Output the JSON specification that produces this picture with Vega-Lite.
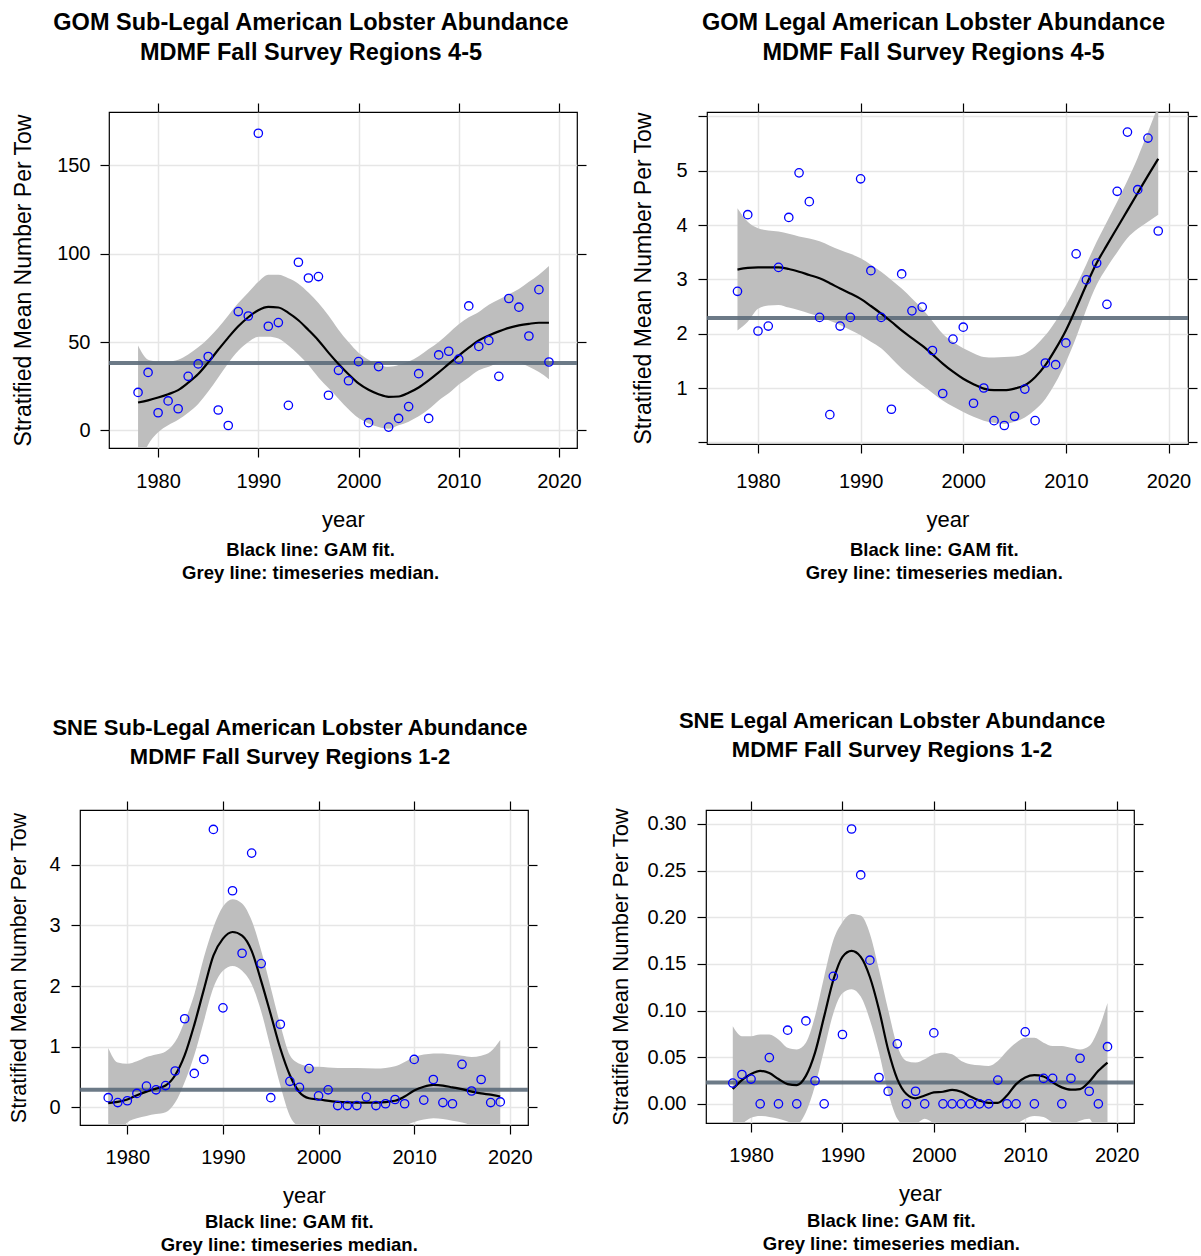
{
  "$schema": "https://vega.github.io/schema/vega-lite/v6.json",
  "background": "white",
  "padding": {"left": 8, "top": 10, "right": 2, "bottom": 5},
  "datasets": {
    "gom_sub_pts": [
      {"year": 1978, "v": 21.5}, {"year": 1979, "v": 32.8}, {"year": 1980, "v": 10}, {"year": 1981, "v": 16.7},
      {"year": 1982, "v": 12.3}, {"year": 1983, "v": 30.6}, {"year": 1984, "v": 37.6}, {"year": 1985, "v": 41.8},
      {"year": 1986, "v": 11.6}, {"year": 1987, "v": 2.8}, {"year": 1988, "v": 67.2}, {"year": 1989, "v": 64.7},
      {"year": 1990, "v": 168}, {"year": 1991, "v": 58.9}, {"year": 1992, "v": 61}, {"year": 1993, "v": 14.2},
      {"year": 1994, "v": 95.1}, {"year": 1995, "v": 86.2}, {"year": 1996, "v": 87}, {"year": 1997, "v": 19.9},
      {"year": 1998, "v": 34}, {"year": 1999, "v": 28.1}, {"year": 2000, "v": 38.9}, {"year": 2001, "v": 4.4},
      {"year": 2002, "v": 36.1}, {"year": 2003, "v": 1.9}, {"year": 2004, "v": 6.8}, {"year": 2005, "v": 13.5},
      {"year": 2006, "v": 32.1}, {"year": 2007, "v": 6.8}, {"year": 2008, "v": 42.7}, {"year": 2009, "v": 44.8},
      {"year": 2010, "v": 40.3}, {"year": 2011, "v": 70.4}, {"year": 2012, "v": 47.5}, {"year": 2013, "v": 50.9},
      {"year": 2014, "v": 30.6}, {"year": 2015, "v": 74.6}, {"year": 2016, "v": 69.7}, {"year": 2017, "v": 53.4},
      {"year": 2018, "v": 79.6}, {"year": 2019, "v": 38.7}
    ],
    "gom_sub_fit": [
      {"year": 1978, "fit": 15.8, "lo": -20, "hi": 48}, {"year": 1979, "fit": 17, "lo": -8, "hi": 40},
      {"year": 1980, "fit": 18.6, "lo": -1, "hi": 39}, {"year": 1981, "fit": 20.5, "lo": 3, "hi": 39},
      {"year": 1982, "fit": 22.8, "lo": 6, "hi": 40}, {"year": 1983, "fit": 27, "lo": 10, "hi": 43},
      {"year": 1984, "fit": 31.9, "lo": 15, "hi": 47}, {"year": 1985, "fit": 38.5, "lo": 22, "hi": 52},
      {"year": 1986, "fit": 45.6, "lo": 30, "hi": 58}, {"year": 1987, "fit": 52.5, "lo": 38, "hi": 65},
      {"year": 1988, "fit": 58.9, "lo": 45, "hi": 72}, {"year": 1989, "fit": 64, "lo": 50, "hi": 78},
      {"year": 1990, "fit": 68, "lo": 53, "hi": 84}, {"year": 1991, "fit": 69.9, "lo": 53, "hi": 88},
      {"year": 1992, "fit": 69.5, "lo": 52, "hi": 88}, {"year": 1993, "fit": 66.5, "lo": 48, "hi": 86},
      {"year": 1994, "fit": 62.3, "lo": 43, "hi": 83}, {"year": 1995, "fit": 56.8, "lo": 37, "hi": 78},
      {"year": 1996, "fit": 50.9, "lo": 30, "hi": 72}, {"year": 1997, "fit": 44, "lo": 24, "hi": 65},
      {"year": 1998, "fit": 37.6, "lo": 18, "hi": 57}, {"year": 1999, "fit": 31.8, "lo": 12, "hi": 50},
      {"year": 2000, "fit": 26.6, "lo": 7, "hi": 44}, {"year": 2001, "fit": 23, "lo": 4, "hi": 40},
      {"year": 2002, "fit": 20.5, "lo": 2, "hi": 37}, {"year": 2003, "fit": 19, "lo": 1, "hi": 36},
      {"year": 2004, "fit": 19.2, "lo": 3, "hi": 37}, {"year": 2005, "fit": 21.3, "lo": 5, "hi": 39},
      {"year": 2006, "fit": 24.3, "lo": 8, "hi": 42}, {"year": 2007, "fit": 28.3, "lo": 12, "hi": 46},
      {"year": 2008, "fit": 32.8, "lo": 17, "hi": 50}, {"year": 2009, "fit": 37.6, "lo": 21, "hi": 55},
      {"year": 2010, "fit": 42.3, "lo": 26, "hi": 60}, {"year": 2011, "fit": 46.8, "lo": 30, "hi": 64},
      {"year": 2012, "fit": 50.9, "lo": 34, "hi": 67}, {"year": 2013, "fit": 53.7, "lo": 36, "hi": 71},
      {"year": 2014, "fit": 56, "lo": 38, "hi": 74}, {"year": 2015, "fit": 58, "lo": 38, "hi": 77},
      {"year": 2016, "fit": 59.4, "lo": 38, "hi": 80}, {"year": 2017, "fit": 60.3, "lo": 36, "hi": 84},
      {"year": 2018, "fit": 60.9, "lo": 33, "hi": 88}, {"year": 2019, "fit": 60.9, "lo": 29, "hi": 93}
    ],
    "gom_leg_pts": [
      {"year": 1978, "v": 2.78}, {"year": 1979, "v": 4.19}, {"year": 1980, "v": 2.05}, {"year": 1981, "v": 2.14},
      {"year": 1982, "v": 3.22}, {"year": 1983, "v": 4.14}, {"year": 1984, "v": 4.96}, {"year": 1985, "v": 4.43},
      {"year": 1986, "v": 2.3}, {"year": 1987, "v": 0.51}, {"year": 1988, "v": 2.14}, {"year": 1989, "v": 2.3},
      {"year": 1990, "v": 4.85}, {"year": 1991, "v": 3.16}, {"year": 1992, "v": 2.3}, {"year": 1993, "v": 0.61},
      {"year": 1994, "v": 3.1}, {"year": 1995, "v": 2.42}, {"year": 1996, "v": 2.49}, {"year": 1997, "v": 1.69},
      {"year": 1998, "v": 0.9}, {"year": 1999, "v": 1.9}, {"year": 2000, "v": 2.12}, {"year": 2001, "v": 0.72},
      {"year": 2002, "v": 1.0}, {"year": 2003, "v": 0.4}, {"year": 2004, "v": 0.31}, {"year": 2005, "v": 0.48},
      {"year": 2006, "v": 0.98}, {"year": 2007, "v": 0.4}, {"year": 2008, "v": 1.46}, {"year": 2009, "v": 1.43},
      {"year": 2010, "v": 1.83}, {"year": 2011, "v": 3.47}, {"year": 2012, "v": 2.99}, {"year": 2013, "v": 3.3},
      {"year": 2014, "v": 2.54}, {"year": 2015, "v": 4.62}, {"year": 2016, "v": 5.71}, {"year": 2017, "v": 4.65},
      {"year": 2018, "v": 5.6}, {"year": 2019, "v": 3.89}
    ],
    "gom_leg_fit": [
      {"year": 1978, "fit": 3.18, "lo": 2.06, "hi": 4.31}, {"year": 1979, "fit": 3.21, "lo": 2.22, "hi": 4.06},
      {"year": 1980, "fit": 3.22, "lo": 2.46, "hi": 3.94}, {"year": 1981, "fit": 3.22, "lo": 2.52, "hi": 3.9},
      {"year": 1982, "fit": 3.22, "lo": 2.53, "hi": 3.88}, {"year": 1983, "fit": 3.19, "lo": 2.48, "hi": 3.84},
      {"year": 1984, "fit": 3.14, "lo": 2.43, "hi": 3.79}, {"year": 1985, "fit": 3.08, "lo": 2.37, "hi": 3.75},
      {"year": 1986, "fit": 3.02, "lo": 2.31, "hi": 3.7}, {"year": 1987, "fit": 2.93, "lo": 2.24, "hi": 3.62},
      {"year": 1988, "fit": 2.83, "lo": 2.16, "hi": 3.54}, {"year": 1989, "fit": 2.74, "lo": 2.07, "hi": 3.47},
      {"year": 1990, "fit": 2.64, "lo": 1.97, "hi": 3.39}, {"year": 1991, "fit": 2.51, "lo": 1.85, "hi": 3.27},
      {"year": 1992, "fit": 2.37, "lo": 1.73, "hi": 3.14}, {"year": 1993, "fit": 2.22, "lo": 1.55, "hi": 2.99},
      {"year": 1994, "fit": 2.06, "lo": 1.36, "hi": 2.83}, {"year": 1995, "fit": 1.92, "lo": 1.2, "hi": 2.65},
      {"year": 1996, "fit": 1.78, "lo": 1.05, "hi": 2.46}, {"year": 1997, "fit": 1.62, "lo": 0.91, "hi": 2.23},
      {"year": 1998, "fit": 1.45, "lo": 0.77, "hi": 2.0}, {"year": 1999, "fit": 1.3, "lo": 0.66, "hi": 1.85},
      {"year": 2000, "fit": 1.17, "lo": 0.56, "hi": 1.73}, {"year": 2001, "fit": 1.07, "lo": 0.47, "hi": 1.64},
      {"year": 2002, "fit": 0.99, "lo": 0.4, "hi": 1.57}, {"year": 2003, "fit": 0.96, "lo": 0.36, "hi": 1.56},
      {"year": 2004, "fit": 0.96, "lo": 0.34, "hi": 1.57}, {"year": 2005, "fit": 0.99, "lo": 0.38, "hi": 1.58},
      {"year": 2006, "fit": 1.05, "lo": 0.46, "hi": 1.63}, {"year": 2007, "fit": 1.2, "lo": 0.6, "hi": 1.77},
      {"year": 2008, "fit": 1.42, "lo": 0.8, "hi": 1.97}, {"year": 2009, "fit": 1.72, "lo": 1.1, "hi": 2.23},
      {"year": 2010, "fit": 2.06, "lo": 1.48, "hi": 2.53}, {"year": 2011, "fit": 2.47, "lo": 1.93, "hi": 2.88},
      {"year": 2012, "fit": 2.9, "lo": 2.45, "hi": 3.28}, {"year": 2013, "fit": 3.3, "lo": 2.9, "hi": 3.69},
      {"year": 2014, "fit": 3.63, "lo": 3.22, "hi": 4.06}, {"year": 2015, "fit": 3.95, "lo": 3.5, "hi": 4.43},
      {"year": 2016, "fit": 4.27, "lo": 3.76, "hi": 4.82}, {"year": 2017, "fit": 4.59, "lo": 3.93, "hi": 5.24},
      {"year": 2018, "fit": 4.91, "lo": 4.06, "hi": 5.71}, {"year": 2019, "fit": 5.22, "lo": 4.19, "hi": 6.2}
    ],
    "sne_sub_pts": [
      {"year": 1978, "v": 0.16}, {"year": 1979, "v": 0.08}, {"year": 1980, "v": 0.11}, {"year": 1981, "v": 0.23},
      {"year": 1982, "v": 0.35}, {"year": 1983, "v": 0.29}, {"year": 1984, "v": 0.36}, {"year": 1985, "v": 0.6},
      {"year": 1986, "v": 1.46}, {"year": 1987, "v": 0.56}, {"year": 1988, "v": 0.79}, {"year": 1989, "v": 4.58},
      {"year": 1990, "v": 1.64}, {"year": 1991, "v": 3.57}, {"year": 1992, "v": 2.54}, {"year": 1993, "v": 4.19},
      {"year": 1994, "v": 2.37}, {"year": 1995, "v": 0.16}, {"year": 1996, "v": 1.37}, {"year": 1997, "v": 0.43},
      {"year": 1998, "v": 0.33}, {"year": 1999, "v": 0.64}, {"year": 2000, "v": 0.19}, {"year": 2001, "v": 0.29},
      {"year": 2002, "v": 0.03}, {"year": 2003, "v": 0.03}, {"year": 2004, "v": 0.03}, {"year": 2005, "v": 0.17},
      {"year": 2006, "v": 0.03}, {"year": 2007, "v": 0.06}, {"year": 2008, "v": 0.13}, {"year": 2009, "v": 0.06},
      {"year": 2010, "v": 0.79}, {"year": 2011, "v": 0.12}, {"year": 2012, "v": 0.46}, {"year": 2013, "v": 0.08},
      {"year": 2014, "v": 0.06}, {"year": 2015, "v": 0.71}, {"year": 2016, "v": 0.27}, {"year": 2017, "v": 0.46},
      {"year": 2018, "v": 0.08}, {"year": 2019, "v": 0.09}
    ],
    "sne_sub_fit": [
      {"year": 1978, "fit": 0.07, "lo": -0.65, "hi": 0.98}, {"year": 1979, "fit": 0.09, "lo": -0.45, "hi": 0.74},
      {"year": 1980, "fit": 0.13, "lo": -0.25, "hi": 0.72}, {"year": 1981, "fit": 0.2, "lo": -0.18, "hi": 0.76},
      {"year": 1982, "fit": 0.26, "lo": -0.14, "hi": 0.83}, {"year": 1983, "fit": 0.31, "lo": -0.11, "hi": 0.87},
      {"year": 1984, "fit": 0.36, "lo": -0.08, "hi": 0.92}, {"year": 1985, "fit": 0.53, "lo": 0.08, "hi": 1.08},
      {"year": 1986, "fit": 0.86, "lo": 0.42, "hi": 1.42}, {"year": 1987, "fit": 1.36, "lo": 0.86, "hi": 1.86},
      {"year": 1988, "fit": 1.94, "lo": 1.42, "hi": 2.47}, {"year": 1989, "fit": 2.5, "lo": 1.97, "hi": 2.97},
      {"year": 1990, "fit": 2.78, "lo": 2.25, "hi": 3.31}, {"year": 1991, "fit": 2.89, "lo": 2.33, "hi": 3.43},
      {"year": 1992, "fit": 2.83, "lo": 2.25, "hi": 3.36}, {"year": 1993, "fit": 2.58, "lo": 2.03, "hi": 3.08},
      {"year": 1994, "fit": 2.08, "lo": 1.58, "hi": 2.58}, {"year": 1995, "fit": 1.53, "lo": 0.97, "hi": 1.97},
      {"year": 1996, "fit": 0.97, "lo": 0.36, "hi": 1.36}, {"year": 1997, "fit": 0.53, "lo": -0.14, "hi": 0.86},
      {"year": 1998, "fit": 0.25, "lo": -0.33, "hi": 0.72}, {"year": 1999, "fit": 0.15, "lo": -0.4, "hi": 0.68},
      {"year": 2000, "fit": 0.13, "lo": -0.42, "hi": 0.67}, {"year": 2002, "fit": 0.09, "lo": -0.45, "hi": 0.65},
      {"year": 2004, "fit": 0.08, "lo": -0.45, "hi": 0.65}, {"year": 2006, "fit": 0.08, "lo": -0.45, "hi": 0.64},
      {"year": 2008, "fit": 0.11, "lo": -0.38, "hi": 0.68}, {"year": 2009, "fit": 0.18, "lo": -0.3, "hi": 0.75},
      {"year": 2010, "fit": 0.28, "lo": -0.24, "hi": 0.83}, {"year": 2011, "fit": 0.34, "lo": -0.2, "hi": 0.87},
      {"year": 2012, "fit": 0.37, "lo": -0.18, "hi": 0.89}, {"year": 2013, "fit": 0.36, "lo": -0.19, "hi": 0.89},
      {"year": 2014, "fit": 0.33, "lo": -0.22, "hi": 0.87}, {"year": 2015, "fit": 0.3, "lo": -0.25, "hi": 0.85},
      {"year": 2016, "fit": 0.26, "lo": -0.3, "hi": 0.83}, {"year": 2017, "fit": 0.23, "lo": -0.38, "hi": 0.85},
      {"year": 2018, "fit": 0.21, "lo": -0.5, "hi": 0.92}, {"year": 2019, "fit": 0.18, "lo": -0.65, "hi": 1.11}
    ],
    "sne_leg_pts": [
      {"year": 1978, "v": 0.0223}, {"year": 1979, "v": 0.0315}, {"year": 1980, "v": 0.0266}, {"year": 1981, "v": 0},
      {"year": 1982, "v": 0.0496}, {"year": 1983, "v": 0}, {"year": 1984, "v": 0.079}, {"year": 1985, "v": 0},
      {"year": 1986, "v": 0.0889}, {"year": 1987, "v": 0.0248}, {"year": 1988, "v": 0}, {"year": 1989, "v": 0.1367},
      {"year": 1990, "v": 0.0744}, {"year": 1991, "v": 0.2946}, {"year": 1992, "v": 0.2454}, {"year": 1993, "v": 0.154},
      {"year": 1994, "v": 0.0283}, {"year": 1995, "v": 0.0135}, {"year": 1996, "v": 0.0644}, {"year": 1997, "v": 0},
      {"year": 1998, "v": 0.0135}, {"year": 1999, "v": 0}, {"year": 2000, "v": 0.0761}, {"year": 2001, "v": 0},
      {"year": 2002, "v": 0}, {"year": 2003, "v": 0}, {"year": 2004, "v": 0}, {"year": 2005, "v": 0},
      {"year": 2006, "v": 0}, {"year": 2007, "v": 0.0255}, {"year": 2008, "v": 0}, {"year": 2009, "v": 0},
      {"year": 2010, "v": 0.0772}, {"year": 2011, "v": 0}, {"year": 2012, "v": 0.0273}, {"year": 2013, "v": 0.0273},
      {"year": 2014, "v": 0}, {"year": 2015, "v": 0.0273}, {"year": 2016, "v": 0.0489}, {"year": 2017, "v": 0.0135},
      {"year": 2018, "v": 0}, {"year": 2019, "v": 0.0613}
    ],
    "sne_leg_fit": [
      {"year": 1978, "fit": 0.016, "lo": -0.03, "hi": 0.0832}, {"year": 1979, "fit": 0.0255, "lo": -0.022, "hi": 0.0726},
      {"year": 1980, "fit": 0.032, "lo": -0.015, "hi": 0.0726}, {"year": 1981, "fit": 0.0354, "lo": -0.013, "hi": 0.0744},
      {"year": 1982, "fit": 0.033, "lo": -0.014, "hi": 0.0744}, {"year": 1983, "fit": 0.0266, "lo": -0.016, "hi": 0.069},
      {"year": 1984, "fit": 0.0212, "lo": -0.019, "hi": 0.0602}, {"year": 1985, "fit": 0.0202, "lo": -0.022, "hi": 0.0584},
      {"year": 1986, "fit": 0.03, "lo": -0.009, "hi": 0.0655}, {"year": 1987, "fit": 0.0549, "lo": 0.0195, "hi": 0.0938},
      {"year": 1988, "fit": 0.0938, "lo": 0.058, "hi": 0.1363}, {"year": 1989, "fit": 0.1328, "lo": 0.097, "hi": 0.1753},
      {"year": 1990, "fit": 0.1576, "lo": 0.1186, "hi": 0.1948}, {"year": 1991, "fit": 0.164, "lo": 0.1229, "hi": 0.2036},
      {"year": 1992, "fit": 0.1576, "lo": 0.115, "hi": 0.2018}, {"year": 1993, "fit": 0.136, "lo": 0.09, "hi": 0.1824},
      {"year": 1994, "fit": 0.101, "lo": 0.055, "hi": 0.1434}, {"year": 1995, "fit": 0.058, "lo": 0.0124, "hi": 0.1009},
      {"year": 1996, "fit": 0.0266, "lo": -0.016, "hi": 0.062}, {"year": 1997, "fit": 0.0106, "lo": -0.024, "hi": 0.046},
      {"year": 1998, "fit": 0.006, "lo": -0.022, "hi": 0.0443}, {"year": 1999, "fit": 0.0089, "lo": -0.016, "hi": 0.0478},
      {"year": 2000, "fit": 0.0124, "lo": -0.021, "hi": 0.0531}, {"year": 2001, "fit": 0.013, "lo": -0.026, "hi": 0.0549},
      {"year": 2002, "fit": 0.0149, "lo": -0.028, "hi": 0.0531}, {"year": 2003, "fit": 0.013, "lo": -0.03, "hi": 0.046},
      {"year": 2004, "fit": 0.0078, "lo": -0.03, "hi": 0.0425}, {"year": 2005, "fit": 0.0035, "lo": -0.032, "hi": 0.0414},
      {"year": 2006, "fit": 0.001, "lo": -0.034, "hi": 0.0407}, {"year": 2007, "fit": 0.001, "lo": -0.033, "hi": 0.046},
      {"year": 2008, "fit": 0.0089, "lo": -0.028, "hi": 0.0567}, {"year": 2009, "fit": 0.0212, "lo": -0.022, "hi": 0.0655},
      {"year": 2010, "fit": 0.0283, "lo": -0.016, "hi": 0.0708}, {"year": 2011, "fit": 0.0308, "lo": -0.013, "hi": 0.0708},
      {"year": 2012, "fit": 0.0294, "lo": -0.014, "hi": 0.0655}, {"year": 2013, "fit": 0.023, "lo": -0.02, "hi": 0.062},
      {"year": 2014, "fit": 0.0177, "lo": -0.024, "hi": 0.062}, {"year": 2015, "fit": 0.0152, "lo": -0.022, "hi": 0.0602},
      {"year": 2016, "fit": 0.0159, "lo": -0.018, "hi": 0.0584}, {"year": 2017, "fit": 0.0237, "lo": -0.016, "hi": 0.062},
      {"year": 2018, "fit": 0.0354, "lo": -0.04, "hi": 0.0797}, {"year": 2019, "fit": 0.0443, "lo": -0.06, "hi": 0.108}
    ],
    "medians": [
      {"panel": "gom_sub", "median": 38.2},
      {"panel": "gom_leg", "median": 2.29},
      {"panel": "sne_sub", "median": 0.29},
      {"panel": "sne_leg", "median": 0.023}
    ]
  },
  "vconcat": [
    {
      "hconcat": [
        {
          "width": 1, "height": 1,
          "view": {"stroke": null},
          "data": {"values": []},
          "mark": {"type": "point"}
        },
        {
          "hconcat": [
            {
              "title": {"text": ["Black line: GAM fit.", "Grey line: timeseries median."], "orient": "bottom", "fontSize": 18.5, "fontWeight": "bold", "lineHeight": 23, "offset": 10, "frame": "bounds", "anchor": "middle", "dx": 11},
              "vconcat": [
                {
                  "width": 468, "height": 336,
                  "title": {"text": ["GOM Sub-Legal American Lobster Abundance", "MDMF Fall Survey Regions 4-5"], "fontSize": 23.5, "fontWeight": "bold", "lineHeight": 30, "offset": 38, "anchor": "middle", "dx": -32},
                  "resolve": {"axis": {"x": "independent", "y": "independent"}},
                  "layer": [
                    {
                      "data": {"name": "gom_sub_fit"},
                      "mark": {"type": "area", "color": "#bebebe", "opacity": 1, "clip": true, "interpolate": "monotone"},
                      "encoding": {
                        "x": {"field": "year", "type": "quantitative", "scale": {"domain": [1975.1, 2021.8], "nice": false, "zero": false},
                          "axis": {"orient": "bottom", "values": [1980, 1990, 2000, 2010, 2020], "format": "d", "title": "year", "titlePadding": 18, "labelPadding": 14}},
                        "y": {"field": "lo", "type": "quantitative", "scale": {"domain": [-9.9, 180], "nice": false, "zero": false},
                          "axis": {"orient": "left", "values": [0, 50, 100, 150], "title": "Stratified Mean Number Per Tow", "titleFontSize": 23, "titlePadding": 21, "labelPadding": 10}},
                        "y2": {"field": "hi"}
                      }
                    },
                    {
                      "data": {"name": "medians"},
                      "transform": [{"filter": "datum.panel == 'gom_sub'"}],
                      "mark": {"type": "rule", "color": "#5c6b7a", "strokeWidth": 4, "opacity": 0.9},
                      "encoding": {
                        "y": {"field": "median", "type": "quantitative", "scale": {"domain": [-9.9, 180], "nice": false, "zero": false}, "axis": null}
                      }
                    },
                    {
                      "data": {"name": "gom_sub_fit"},
                      "mark": {"type": "line", "color": "black", "strokeWidth": 2.2, "clip": true, "interpolate": "monotone"},
                      "encoding": {
                        "x": {"field": "year", "type": "quantitative", "scale": {"domain": [1975.1, 2021.8], "nice": false, "zero": false}, "axis": null},
                        "y": {"field": "fit", "type": "quantitative", "scale": {"domain": [-9.9, 180], "nice": false, "zero": false}, "axis": null}
                      }
                    },
                    {
                      "data": {"name": "gom_sub_pts"},
                      "mark": {"type": "point", "shape": "circle", "filled": false, "color": "#0000ff", "size": 70, "strokeWidth": 1.3, "opacity": 1},
                      "encoding": {
                        "x": {"field": "year", "type": "quantitative", "scale": {"domain": [1975.1, 2021.8], "nice": false, "zero": false},
                          "axis": {"orient": "top", "values": [1980, 1990, 2000, 2010, 2020], "labels": false, "title": null, "grid": false}},
                        "y": {"field": "v", "type": "quantitative", "scale": {"domain": [-9.9, 180], "nice": false, "zero": false},
                          "axis": {"orient": "right", "values": [0, 50, 100, 150], "labels": false, "title": null, "grid": false}}
                      }
                    }
                  ]
                }
              ]
            },
            {
              "title": {"text": ["Black line: GAM fit.", "Grey line: timeseries median."], "orient": "bottom", "fontSize": 18.5, "fontWeight": "bold", "lineHeight": 23, "offset": 10, "frame": "bounds", "anchor": "middle", "dx": 19},
              "vconcat": [
                {
                  "width": 481, "height": 332,
                  "title": {"text": ["GOM Legal American Lobster Abundance", "MDMF Fall Survey Regions 4-5"], "fontSize": 23.5, "fontWeight": "bold", "lineHeight": 30, "offset": 38, "anchor": "middle", "dx": -14},
                  "resolve": {"axis": {"x": "independent", "y": "independent"}},
                  "layer": [
                    {
                      "data": {"name": "gom_leg_fit"},
                      "mark": {"type": "area", "color": "#bebebe", "opacity": 1, "clip": true, "interpolate": "monotone"},
                      "encoding": {
                        "x": {"field": "year", "type": "quantitative", "scale": {"domain": [1975.03, 2021.9], "nice": false, "zero": false},
                          "axis": {"orient": "bottom", "values": [1980, 1990, 2000, 2010, 2020], "format": "d", "title": "year", "titlePadding": 18, "labelPadding": 18}},
                        "y": {"field": "lo", "type": "quantitative", "scale": {"domain": [-0.03, 6.08], "nice": false, "zero": false},
                          "axis": {"orient": "left", "values": [0, 1, 2, 3, 4, 5, 6], "labelExpr": "datum.value == 0 || datum.value == 6 ? '' : datum.label", "title": "Stratified Mean Number Per Tow", "titleFontSize": 23, "titlePadding": 20, "labelPadding": 11}},
                        "y2": {"field": "hi"}
                      }
                    },
                    {
                      "data": {"name": "medians"},
                      "transform": [{"filter": "datum.panel == 'gom_leg'"}],
                      "mark": {"type": "rule", "color": "#5c6b7a", "strokeWidth": 4, "opacity": 0.9},
                      "encoding": {
                        "y": {"field": "median", "type": "quantitative", "scale": {"domain": [-0.03, 6.08], "nice": false, "zero": false}, "axis": null}
                      }
                    },
                    {
                      "data": {"name": "gom_leg_fit"},
                      "mark": {"type": "line", "color": "black", "strokeWidth": 2.2, "clip": true, "interpolate": "monotone"},
                      "encoding": {
                        "x": {"field": "year", "type": "quantitative", "scale": {"domain": [1975.03, 2021.9], "nice": false, "zero": false}, "axis": null},
                        "y": {"field": "fit", "type": "quantitative", "scale": {"domain": [-0.03, 6.08], "nice": false, "zero": false}, "axis": null}
                      }
                    },
                    {
                      "data": {"name": "gom_leg_pts"},
                      "mark": {"type": "point", "shape": "circle", "filled": false, "color": "#0000ff", "size": 70, "strokeWidth": 1.3, "opacity": 1},
                      "encoding": {
                        "x": {"field": "year", "type": "quantitative", "scale": {"domain": [1975.03, 2021.9], "nice": false, "zero": false},
                          "axis": {"orient": "top", "values": [1980, 1990, 2000, 2010, 2020], "labels": false, "title": null, "grid": false}},
                        "y": {"field": "v", "type": "quantitative", "scale": {"domain": [-0.03, 6.08], "nice": false, "zero": false},
                          "axis": {"orient": "right", "values": [0, 1, 2, 3, 4, 5, 6], "labels": false, "title": null, "grid": false}}
                      }
                    }
                  ]
                }
              ]
            }
          ],
          "spacing": 44
        }
      ],
      "spacing": -69
    },
    {
      "hconcat": [
        {
          "title": {"text": ["Black line: GAM fit.", "Grey line: timeseries median."], "orient": "bottom", "fontSize": 18.5, "fontWeight": "bold", "lineHeight": 23, "offset": 6, "frame": "bounds", "anchor": "middle", "dx": 16},
          "vconcat": [
            {
              "width": 448, "height": 315,
              "title": {"text": ["SNE Sub-Legal American Lobster Abundance", "MDMF Fall Survey Regions 1-2"], "fontSize": 22, "fontWeight": "bold", "lineHeight": 29, "offset": 31, "anchor": "middle", "dx": -14},
              "resolve": {"axis": {"x": "independent", "y": "independent"}},
              "layer": [
                {
                  "data": {"name": "sne_sub_fit"},
                  "mark": {"type": "area", "color": "#bebebe", "opacity": 1, "clip": true, "interpolate": "monotone"},
                  "encoding": {
                    "x": {"field": "year", "type": "quantitative", "scale": {"domain": [1975.05, 2021.9], "nice": false, "zero": false},
                      "axis": {"orient": "bottom", "values": [1980, 1990, 2000, 2010, 2020], "format": "d", "title": "year", "titlePadding": 18, "labelPadding": 13}},
                    "y": {"field": "lo", "type": "quantitative", "scale": {"domain": [-0.29, 4.9], "nice": false, "zero": false},
                      "axis": {"orient": "left", "values": [0, 1, 2, 3, 4], "title": "Stratified Mean Number Per Tow", "titleFontSize": 21.5, "titlePadding": 18, "labelPadding": 11}},
                    "y2": {"field": "hi"}
                  }
                },
                {
                  "data": {"name": "medians"},
                  "transform": [{"filter": "datum.panel == 'sne_sub'"}],
                  "mark": {"type": "rule", "color": "#5c6b7a", "strokeWidth": 4, "opacity": 0.9},
                  "encoding": {
                    "y": {"field": "median", "type": "quantitative", "scale": {"domain": [-0.29, 4.9], "nice": false, "zero": false}, "axis": null}
                  }
                },
                {
                  "data": {"name": "sne_sub_fit"},
                  "mark": {"type": "line", "color": "black", "strokeWidth": 2.2, "clip": true, "interpolate": "monotone"},
                  "encoding": {
                    "x": {"field": "year", "type": "quantitative", "scale": {"domain": [1975.05, 2021.9], "nice": false, "zero": false}, "axis": null},
                    "y": {"field": "fit", "type": "quantitative", "scale": {"domain": [-0.29, 4.9], "nice": false, "zero": false}, "axis": null}
                  }
                },
                {
                  "data": {"name": "sne_sub_pts"},
                  "mark": {"type": "point", "shape": "circle", "filled": false, "color": "#0000ff", "size": 70, "strokeWidth": 1.3, "opacity": 1},
                  "encoding": {
                    "x": {"field": "year", "type": "quantitative", "scale": {"domain": [1975.05, 2021.9], "nice": false, "zero": false},
                      "axis": {"orient": "top", "values": [1980, 1990, 2000, 2010, 2020], "labels": false, "title": null, "grid": false}},
                    "y": {"field": "v", "type": "quantitative", "scale": {"domain": [-0.29, 4.9], "nice": false, "zero": false},
                      "axis": {"orient": "right", "values": [0, 1, 2, 3, 4], "labels": false, "title": null, "grid": false}}
                  }
                }
              ]
            }
          ]
        },
        {
          "title": {"text": ["Black line: GAM fit.", "Grey line: timeseries median."], "orient": "bottom", "fontSize": 18.5, "fontWeight": "bold", "lineHeight": 23, "offset": 7, "frame": "bounds", "anchor": "middle", "dx": 15},
          "vconcat": [
            {
              "width": 428, "height": 313,
              "title": {"text": ["SNE Legal American Lobster Abundance", "MDMF Fall Survey Regions 1-2"], "fontSize": 22, "fontWeight": "bold", "lineHeight": 29, "offset": 38, "anchor": "middle", "dx": -28},
              "resolve": {"axis": {"x": "independent", "y": "independent"}},
              "layer": [
                {
                  "data": {"name": "sne_leg_fit"},
                  "mark": {"type": "area", "color": "#bebebe", "opacity": 1, "clip": true, "interpolate": "monotone"},
                  "encoding": {
                    "x": {"field": "year", "type": "quantitative", "scale": {"domain": [1975.07, 2021.9], "nice": false, "zero": false},
                      "axis": {"orient": "bottom", "values": [1980, 1990, 2000, 2010, 2020], "format": "d", "title": "year", "titlePadding": 18, "labelPadding": 13}},
                    "y": {"field": "lo", "type": "quantitative", "scale": {"domain": [-0.0205, 0.315], "nice": false, "zero": false},
                      "axis": {"orient": "left", "values": [0, 0.05, 0.1, 0.15, 0.2, 0.25, 0.3], "format": ".2f", "title": "Stratified Mean Number Per Tow", "titlePadding": 15, "labelPadding": 11}},
                    "y2": {"field": "hi"}
                  }
                },
                {
                  "data": {"name": "medians"},
                  "transform": [{"filter": "datum.panel == 'sne_leg'"}],
                  "mark": {"type": "rule", "color": "#5c6b7a", "strokeWidth": 4, "opacity": 0.9},
                  "encoding": {
                    "y": {"field": "median", "type": "quantitative", "scale": {"domain": [-0.0205, 0.315], "nice": false, "zero": false}, "axis": null}
                  }
                },
                {
                  "data": {"name": "sne_leg_fit"},
                  "mark": {"type": "line", "color": "black", "strokeWidth": 2.2, "clip": true, "interpolate": "monotone"},
                  "encoding": {
                    "x": {"field": "year", "type": "quantitative", "scale": {"domain": [1975.07, 2021.9], "nice": false, "zero": false}, "axis": null},
                    "y": {"field": "fit", "type": "quantitative", "scale": {"domain": [-0.0205, 0.315], "nice": false, "zero": false}, "axis": null}
                  }
                },
                {
                  "data": {"name": "sne_leg_pts"},
                  "mark": {"type": "point", "shape": "circle", "filled": false, "color": "#0000ff", "size": 70, "strokeWidth": 1.3, "opacity": 1},
                  "encoding": {
                    "x": {"field": "year", "type": "quantitative", "scale": {"domain": [1975.07, 2021.9], "nice": false, "zero": false},
                      "axis": {"orient": "top", "values": [1980, 1990, 2000, 2010, 2020], "labels": false, "title": null, "grid": false}},
                    "y": {"field": "v", "type": "quantitative", "scale": {"domain": [-0.0205, 0.315], "nice": false, "zero": false},
                      "axis": {"orient": "right", "values": [0, 0.05, 0.1, 0.15, 0.2, 0.25, 0.3], "labels": false, "title": null, "grid": false}}
                  }
                }
              ]
            }
          ]
        }
      ],
      "spacing": 69
    }
  ],
  "spacing": 126,
  "config": {
    "font": "Liberation Sans",
    "view": {"stroke": "#000000", "strokeWidth": 1.2},
    "title": {"color": "#000000"},
    "axis": {
      "domain": false,
      "grid": true,
      "gridColor": "#e6e6e6",
      "gridWidth": 1.5,
      "tickColor": "#000000",
      "tickSize": 9,
      "tickWidth": 1.2,
      "labelColor": "#000000",
      "labelFontSize": 20,
      "labelFont": "Liberation Sans",
      "titleColor": "#000000",
      "titleFontSize": 22,
      "titleFontWeight": "normal",
      "titleFont": "Liberation Sans"
    }
  }
}
